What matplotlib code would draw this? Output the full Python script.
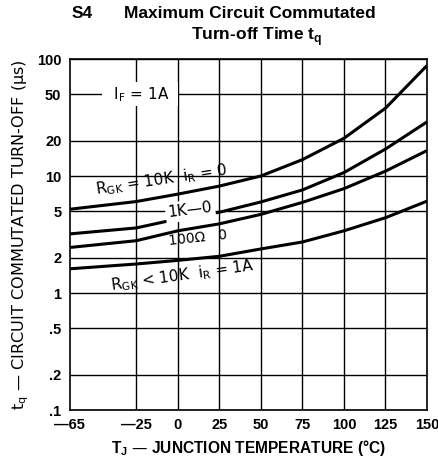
import numpy as np
import matplotlib
matplotlib.use("Agg")
import matplotlib.pyplot as plt
from matplotlib.ticker import FixedLocator, NullLocator

# junction temperature (deg C) and turn-off time (us)
temp = [-65, -25, 0, 25, 50, 75, 100, 125, 150]
tq_10k = [5.2, 6.05, 7.0, 8.2, 10.0, 13.8, 21.0, 38.0, 88.0]
tq_1k = [3.2, 3.6, 4.3, 4.9, 6.0, 7.6, 10.7, 17.0, 29.0]
tq_100 = [2.45, 2.8, 3.4, 3.9, 4.7, 5.95, 7.8, 11.0, 16.5]
tq_ir1a = [1.61, 1.77, 1.9, 2.06, 2.38, 2.73, 3.4, 4.4, 6.1]

xticks = [-65, -25, 0, 25, 50, 75, 100, 125, 150]
xlabels = ["\u201465", "\u201425", "0", "25", "50", "75", "100", "125", "150"]
yticks = [0.1, 0.2, 0.5, 1, 2, 5, 10, 20, 50, 100]
ylabels = [".1", ".2", ".5", "1", "2", "5", "10", "20", "50", "100"]

plt.rcParams['font.family'] = ['Liberation Sans', 'DejaVu Sans']
wide = ['DejaVu Sans']

fig = plt.figure(figsize=(4.39, 4.61), dpi=100)
ax = fig.add_axes([0.159, 0.1106, 0.8137, 0.7614])

ax.set_yscale('log')
ax.set_xlim(-65, 150)
ax.set_ylim(0.1, 100)

for yv in yticks:
    ax.axhline(yv, color='black', lw=1.0, zorder=1)
for xv in xticks[1:-1]:
    ax.axvline(xv, color='black', lw=1.0, zorder=1)

for s in [tq_10k, tq_1k, tq_100, tq_ir1a]:
    ax.plot(temp, s, color='black', lw=2.2, zorder=3, solid_capstyle='butt')

ax.xaxis.set_major_locator(FixedLocator(xticks))
ax.set_xticklabels(xlabels, fontsize=10.5, fontweight='bold')
ax.yaxis.set_major_locator(FixedLocator(yticks))
ax.yaxis.set_minor_locator(NullLocator())
ax.set_yticklabels(ylabels, fontsize=10.5, fontweight='bold')
ax.tick_params(length=0, pad=6)
for sp in ax.spines.values():
    sp.set_linewidth(1.2)

ax.set_xlabel("T$_\\mathregular{J}$ \u2014 JUNCTION TEMPERATURE (\u00b0C)", fontsize=11.2,
              fontweight='bold', labelpad=4)
ax.set_ylabel("t$_\\mathregular{q}$ \u2014 CIRCUIT COMMUTATED TURN-OFF (\u03bcs)", fontsize=11.6,
              family=wide, labelpad=4)

box = dict(facecolor='white', edgecolor='none', pad=2)
ax.text(-23, 50, "  I$_\\mathregular{F}$ = 1A  ", fontsize=11, family=wide, ha='center', va='center', bbox=box, zorder=4)
ax.text(-10, 9.2, "R$_\\mathregular{GK}$ = 10K  i$_\\mathregular{R}$ = 0", fontsize=11, family=wide,
        ha='center', va='center', rotation=8.5, zorder=4)
ax.text(7.5, 5.1, "1K\u20140", fontsize=11, family=wide, ha='center', va='center', rotation=7, bbox=box, zorder=4)
ax.text(12, 2.95, "100\u03a9   0", fontsize=10, family=wide, ha='center', va='center', rotation=6, zorder=4)
ax.text(3, 1.4, "R$_\\mathregular{GK}$ < 10K  i$_\\mathregular{R}$ = 1A", fontsize=11, family=wide,
        ha='center', va='center', rotation=8, zorder=4)

fig.text(82 / 439, 1 - 14 / 461, "S4", fontsize=12.5, fontweight='bold', ha='center', va='center')
fig.text(250 / 439, 1 - 14 / 461, "Maximum Circuit Commutated", fontsize=12.5, fontweight='bold', ha='center', va='center')
fig.text(257 / 439, 1 - 37 / 461, "Turn-off Time t$_\\mathregular{q}$", fontsize=12.5, fontweight='bold', ha='center', va='center')

fig.savefig("out.png", dpi=100)
